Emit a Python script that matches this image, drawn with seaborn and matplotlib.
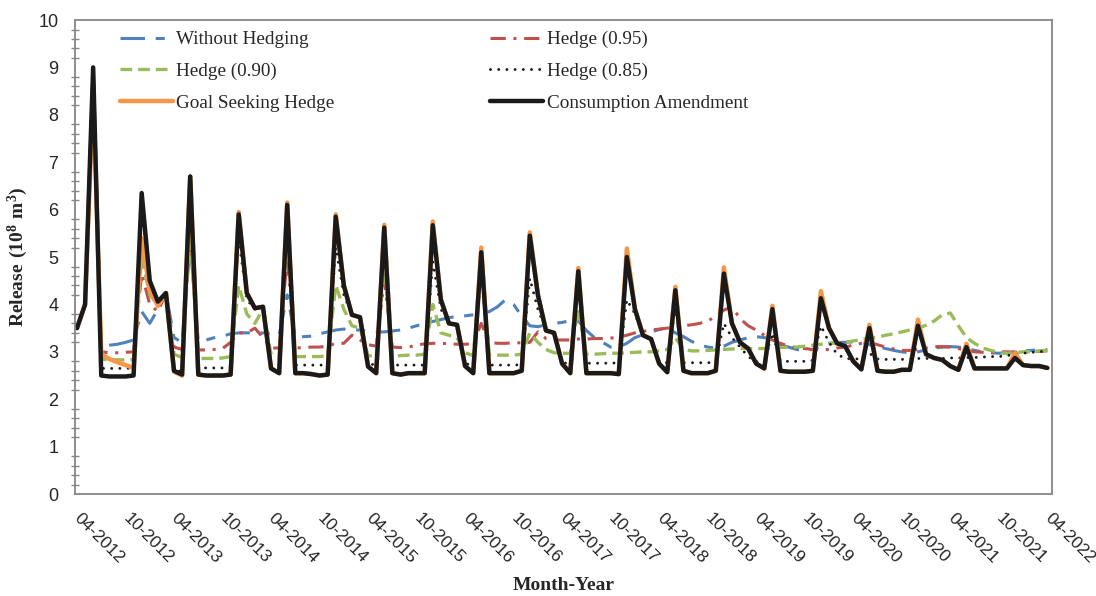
import numpy as np
import matplotlib
matplotlib.use("Agg")
import matplotlib.pyplot as plt
from matplotlib.ticker import MultipleLocator
import seaborn as sns

# monthly release (10^8 m3), 04-2012 .. 04-2022
tick_labels = ["04-2012", "10-2012", "04-2013", "10-2013", "04-2014", "10-2014",
               "04-2015", "10-2015", "04-2016", "10-2016", "04-2017", "10-2017",
               "04-2018", "10-2018", "04-2019", "10-2019", "04-2020", "10-2020",
               "04-2021", "10-2021", "04-2022"]

without_hedging = [
    3.5, 4.0, 9.0, 3.1, 3.14, 3.16, 3.2, 3.25, 3.85, 3.6,
    3.9, 4.24, 3.3, 3.2, 5.3, 3.22, 3.25, 3.3, 3.33, 3.38,
    3.4, 3.4, 3.4, 3.4, 3.38, 3.35, 4.2, 3.3, 3.32, 3.33,
    3.38, 3.42, 3.46, 3.48, 3.46, 3.46, 3.43, 3.42, 3.42, 3.44,
    3.46, 3.5, 3.55, 3.6, 3.64, 3.68, 3.72, 3.75, 3.76, 3.78,
    3.8, 3.85, 3.95, 4.1, 4.0, 3.75, 3.55, 3.53, 3.57, 3.6,
    3.62, 3.66, 3.65, 3.45, 3.3, 3.2, 3.1, 3.1, 3.18, 3.3,
    3.36, 3.42, 3.47, 3.5, 3.4, 3.32, 3.22, 3.15, 3.1, 3.08,
    3.12, 3.2, 3.25, 3.3, 3.32, 3.3, 3.25, 3.15, 3.1, 3.05,
    3.03, 3.05, 3.12, 3.18, 3.2, 3.2, 3.21, 3.2, 3.15, 3.1,
    3.07, 3.03, 3.0, 2.98, 3.0, 3.04, 3.08, 3.1, 3.11, 3.1,
    3.07, 3.03, 3.0, 2.98, 2.97, 2.98, 3.0, 3.02, 3.03, 3.04, 3.05]

hedge_095 = [
    3.5, 4.0, 9.0, 3.0, 2.98, 2.98, 2.99, 3.0, 4.65, 4.0,
    3.85, 4.24, 3.1, 3.05, 5.5, 3.04, 3.04, 3.05, 3.07, 3.2,
    3.4, 3.4, 3.5, 3.3, 3.08, 3.08, 5.0, 3.08, 3.09, 3.1,
    3.1, 3.12, 3.18, 3.18, 3.35, 3.25, 3.15, 3.12, 4.5, 3.1,
    3.09, 3.1, 3.14, 3.17, 3.18, 3.18, 3.17, 3.16, 3.16, 3.17,
    3.6, 3.2, 3.18, 3.18, 3.19, 3.19, 3.2, 3.42, 3.28, 3.25,
    3.25, 3.25, 3.27, 3.27, 3.28, 3.28, 3.29, 3.31, 3.35, 3.4,
    3.43, 3.46, 3.48, 3.5, 3.53, 3.55, 3.57, 3.6, 3.65, 3.75,
    3.88, 3.95, 3.7, 3.55, 3.46, 3.35, 3.25, 3.18, 3.12, 3.08,
    3.07, 3.05, 3.04, 3.05, 3.08, 3.1, 3.14, 3.18, 3.2, 3.15,
    3.1, 3.06, 3.03, 3.03, 3.05, 3.08, 3.11, 3.11, 3.1, 3.07,
    3.03, 3.0, 2.99, 2.99, 3.0, 3.0, 2.99, 2.99, 3.0, 3.01, 3.02]

hedge_090 = [
    3.5, 4.0, 9.0, 2.85, 2.83, 2.83, 2.83, 2.84, 5.0, 4.2,
    4.0, 4.24, 2.95, 2.88, 5.5, 2.86, 2.86, 2.86, 2.87, 2.9,
    4.4, 3.8, 3.6, 3.9, 2.95, 2.9, 5.5, 2.9, 2.9, 2.9,
    2.9, 2.92, 4.4, 3.9, 3.55, 3.5, 2.92, 2.9, 4.9, 2.9,
    2.92, 2.93, 2.93, 2.95, 4.0, 3.4, 3.35, 3.3, 2.98, 2.92,
    4.8, 2.93, 2.93, 2.93, 2.93, 2.95, 3.4, 3.2, 3.05, 2.98,
    2.97, 2.97, 3.9, 2.95, 2.95, 2.96, 2.97, 2.97, 2.98, 2.99,
    3.0, 3.0, 3.02, 3.05, 3.3, 3.05, 3.02, 3.02, 3.03, 3.04,
    3.05, 3.06, 3.07, 3.07, 3.07, 3.07, 3.08, 3.09, 3.1, 3.1,
    3.12, 3.14, 3.16, 3.18, 3.18, 3.2, 3.23, 3.26, 3.29, 3.31,
    3.35, 3.38, 3.42, 3.46, 3.5, 3.56, 3.65, 3.78, 3.82, 3.55,
    3.3, 3.18, 3.08, 3.03, 2.99, 2.97, 2.98, 3.0, 3.01, 3.02, 3.03]

hedge_085 = [
    3.5, 4.0, 9.0, 2.65, 2.65, 2.65, 2.65, 2.66, 6.0, 4.5,
    4.06, 4.24, 2.62, 2.58, 6.4, 2.66, 2.66, 2.66, 2.66, 2.67,
    5.4, 4.1, 3.9, 3.95, 2.75, 2.72, 5.9, 2.72, 2.72, 2.72,
    2.72, 2.72, 5.2, 4.2, 3.78, 3.73, 2.75, 2.72, 5.3, 2.72,
    2.72, 2.72, 2.72, 2.72, 4.9, 3.9, 3.6, 3.57, 2.75, 2.72,
    4.7, 2.72, 2.72, 2.72, 2.72, 2.73, 4.55, 3.9, 3.45, 3.4,
    2.78, 2.74, 4.3, 2.76, 2.76, 2.76, 2.76, 2.77, 4.1, 3.8,
    3.35, 3.27, 2.8, 2.77, 3.95, 2.77, 2.77, 2.77, 2.77, 2.78,
    3.6, 3.3, 3.1, 2.9, 2.79, 2.79, 3.4, 2.8, 2.8, 2.8,
    2.8, 2.82, 3.55, 3.2, 2.95, 2.86, 2.85, 2.85, 2.97, 2.85,
    2.84, 2.84, 2.84, 2.85, 2.86, 2.86, 2.86, 2.86, 2.87, 2.87,
    2.88, 2.88, 2.89, 2.9, 2.9, 2.92, 2.95, 2.97, 2.99, 3.0, 3.02]

goal_seeking = [
    3.5, 4.0, 8.5, 2.95, 2.85, 2.78, 2.72, 2.66, 5.4, 4.3,
    3.97, 4.24, 2.58, 2.5, 6.7, 2.52, 2.5, 2.5, 2.5, 2.52,
    5.95, 4.24, 3.92, 3.95, 2.65, 2.55, 6.15, 2.55, 2.55, 2.53,
    2.5, 2.52, 5.9, 4.4, 3.78, 3.73, 2.69, 2.55, 5.68, 2.55,
    2.52, 2.55, 2.55, 2.55, 5.75, 4.1, 3.6, 3.57, 2.7, 2.55,
    5.2, 2.55, 2.55, 2.55, 2.55, 2.6, 5.52, 4.2, 3.45, 3.4,
    2.75, 2.55, 4.77, 2.55, 2.55, 2.55, 2.55, 2.53, 5.18, 3.9,
    3.35, 3.27, 2.75, 2.57, 4.37, 2.6, 2.55, 2.55, 2.55, 2.6,
    4.78, 3.6, 3.2, 3.07, 2.75, 2.65, 3.97, 2.6, 2.58, 2.58,
    2.58, 2.6, 4.28, 3.5, 3.18, 3.12, 2.8, 2.63, 3.57, 2.6,
    2.58, 2.58, 2.62, 2.62, 3.68, 2.95, 2.87, 2.83, 2.7, 2.62,
    3.17, 2.65, 2.65, 2.65, 2.65, 2.65, 2.97, 2.72, 2.7, 2.7, 2.66]

consumption_amendment = [
    3.5, 4.0, 9.0, 2.5, 2.48, 2.48, 2.48, 2.5, 6.35, 4.5,
    4.06, 4.24, 2.6, 2.52, 6.7, 2.52, 2.5, 2.5, 2.5, 2.52,
    5.9, 4.24, 3.92, 3.95, 2.65, 2.55, 6.1, 2.55, 2.55, 2.53,
    2.5, 2.52, 5.85, 4.4, 3.78, 3.73, 2.69, 2.55, 5.62, 2.55,
    2.52, 2.55, 2.55, 2.55, 5.67, 4.1, 3.6, 3.57, 2.7, 2.55,
    5.1, 2.55, 2.55, 2.55, 2.55, 2.6, 5.45, 4.2, 3.45, 3.4,
    2.75, 2.55, 4.7, 2.55, 2.55, 2.55, 2.55, 2.53, 5.0, 3.9,
    3.35, 3.27, 2.75, 2.57, 4.3, 2.6, 2.55, 2.55, 2.55, 2.6,
    4.65, 3.6, 3.2, 3.07, 2.75, 2.65, 3.9, 2.6, 2.58, 2.58,
    2.58, 2.6, 4.13, 3.5, 3.18, 3.12, 2.8, 2.63, 3.5, 2.6,
    2.58, 2.58, 2.62, 2.62, 3.55, 2.95, 2.87, 2.83, 2.7, 2.62,
    3.1, 2.65, 2.65, 2.65, 2.65, 2.65, 2.87, 2.72, 2.7, 2.7, 2.66]

month = np.arange(len(consumption_amendment))

sns.set_style("white")
plt.rcParams["font.family"] = ["Liberation Sans", "DejaVu Sans"]
plt.rcParams["mathtext.fontset"] = "custom"
plt.rcParams["mathtext.rm"] = "Liberation Serif"
plt.rcParams["mathtext.bf"] = "Liberation Serif:bold"

fig = plt.figure(figsize=(10.96, 5.96), dpi=100)
ax = fig.add_axes([0.0684, 0.1711, 0.8916, 0.7953])

series = [
    ("Without Hedging", without_hedging, "#4F81BD", 2.2, (0, (8, 3.5, 3, 3.5)), "butt"),
    ("Hedge (0.95)", hedge_095, "#C0504D", 2.2, (0, (5, 2.5, 1, 2.5)), "butt"),
    ("Hedge (0.90)", hedge_090, "#9BBB59", 2.4, (0, (3.5, 1.8)), "butt"),
    ("Hedge (0.85)", hedge_085, "#1a1a1a", 2.1, (0, (0.01, 2.8)), "round"),
    ("Goal Seeking Hedge", goal_seeking, "#F79646", 3.2, "-", "round"),
    ("Consumption Amendment", consumption_amendment, "#1a1a1a", 3.2, "-", "round"),
]

handles = {}
for name, vals, col, lw, ls, cap in series:
    sns.lineplot(x=month, y=vals, ax=ax, color=col, linewidth=lw, linestyle=ls,
                 dash_capstyle=cap, solid_joinstyle="round", solid_capstyle="round")
    handles[name] = ax.lines[-1]

ax.set_xlim(-0.25, 120.6)
ax.set_ylim(0, 10)
ax.set_xticks(month[::6])
ax.set_xticklabels(tick_labels, rotation=-45, ha="left", va="center",
                   rotation_mode="anchor", fontsize=12.5)
ax.yaxis.set_major_locator(MultipleLocator(1))
ax.yaxis.set_minor_locator(MultipleLocator(0.2))
ax.tick_params(axis="y", which="major", direction="out", length=6, width=1,
               color="#868686", labelsize=13, pad=6)
ax.tick_params(axis="y", which="minor", direction="inout", length=6, width=1,
               color="#868686", left=True)
ax.tick_params(axis="x", which="major", direction="inout", length=9, width=1,
               color="#868686", pad=11)
for sp in ax.spines.values():
    sp.set_color("#868686")
    sp.set_linewidth(1.3)

ax.set_ylabel(r"$\mathbf{Release\ (10^{8}\ m^{3})}$", fontsize=14)
ax.yaxis.set_label_coords(-0.046, 0.5)
ax.set_xlabel("Month-Year", fontsize=14, fontweight="bold", family="Liberation Serif")
ax.xaxis.set_label_coords(0.5, -0.175)

order = ["Without Hedging", "Hedge (0.90)", "Goal Seeking Hedge",
         "Hedge (0.95)", "Hedge (0.85)", "Consumption Amendment"]
ax.legend([handles[k] for k in order], order, loc="upper left",
          bbox_to_anchor=(0.046, 0.977), ncol=2, frameon=False,
          prop={"family": "Liberation Serif", "size": 13.8},
          handlelength=2.75, handletextpad=0.2, columnspacing=8.1,
          labelspacing=0.74, borderpad=0, borderaxespad=0)

fig.savefig("out.png", dpi=100)
